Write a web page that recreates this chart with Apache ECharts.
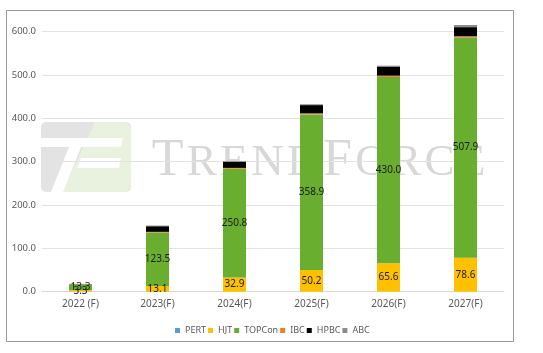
<!DOCTYPE html>
<html>
<head>
<meta charset="utf-8">
<script src="https://cdn.jsdelivr.net/npm/echarts@6/dist/echarts.min.js"></script>
<style>
  html, body { margin: 0; padding: 0; background: #fff; }
  #chart { width: 543px; height: 353px; }
</style>
</head>
<body>
<div id="chart"></div>
<script>
// capacity by cell technology, GW
const years = ["2022 (F)", "2023(F)", "2024(F)", "2025(F)", "2026(F)", "2027(F)"];
const pert = [0, 0, 0, 0, 0, 0];
const hjt = [3.3, 13.1, 32.9, 50.2, 65.6, 78.6];
const topcon = [13.3, 123.5, 250.8, 358.9, 430.0, 507.9];
const ibc = [0.5, 1.5, 2, 2.5, 3, 3];
const hpbc = [0.5, 13, 14, 19, 20, 21];
const abc = [0.4, 1.5, 2, 2, 3, 5];
const yTicks = [0, 100, 200, 300, 400, 500, 600];

const chart = echarts.init(document.getElementById("chart"));

const font = "Noto Sans";
const labelStyle = {
  show: true,
  position: "inside",
  color: "#1a1a1a",
  fontFamily: font,
  fontSize: 10,
  formatter: (p) => p.value.toFixed(1),
};

const makeSeries = (name, data, color, label) => ({
  name,
  type: "bar",
  stack: "total",
  data,
  barWidth: 23,
  clip: false,
  itemStyle: { color },
  label: label ? labelStyle : { show: false },
  emphasis: { disabled: true },
});

// watermark letters, big caps and small caps
const wmBig = { fontFamily: "Liberation Serif", fontSize: 52, fill: "#d8d8d8",
  verticalAlign: "bottom", lineHeight: 56, padding: [0, 1.7, 0, 1.7] };
const wmSmall = { fontFamily: "Liberation Serif", fontSize: 45, fill: "#d8d8d8",
  verticalAlign: "bottom", lineHeight: 56, padding: [0, 1.7, 1.5, 1.7] };

const option = {
  animation: false,
  backgroundColor: "#fff",
  grid: { left: 42, right: 39, top: 31.7, bottom: 61.3 },
  graphic: [
    // outer frame
    { type: "rect", shape: { x: 6.5, y: 10.5, width: 507, height: 331 },
      style: { fill: null, stroke: "#9a9a9a", lineWidth: 1 }, z: -10 },
    // watermark logo
    { type: "rect", shape: { x: 41, y: 122, width: 90, height: 70, r: 5 },
      style: { fill: "#e3e3e3" }, z: -5 },
    { type: "polygon", shape: { points: [[95, 122], [126, 122], [131, 127], [131, 187], [126, 192], [62, 192]] },
      style: { fill: "#e9f2de" }, z: -5 },
    { type: "polygon", shape: { points: [[41, 138], [123, 138], [121, 147], [41, 147]] },
      style: { fill: "#fff" }, z: -4 },
    { type: "polygon", shape: { points: [[81, 158], [121, 158], [119, 168], [77, 168]] },
      style: { fill: "#fff" }, z: -4 },
    { type: "polygon", shape: { points: [[69, 147], [81, 147], [63, 192], [51, 192]] },
      style: { fill: "#fff" }, z: -4 },
    // watermark text
    {
      type: "text", left: 150, top: 135, z: -5,
      style: {
        text: "{a|T}{b|R}{b|E}{b|N}{b|D}{a|F}{b|O}{b|R}{b|C}{b|E}",
        fill: "#d8d8d8",
        rich: { a: wmBig, b: wmSmall },
      },
    },
  ],
  legend: {
    left: 170,
    top: 321,
    itemWidth: 5,
    itemHeight: 5,
    itemGap: 2,
    icon: "rect",
    textStyle: { color: "#595959", fontFamily: font, fontSize: 9 },
    data: ["PERT", "HJT", "TOPCon", "IBC", "HPBC", "ABC"],
  },
  xAxis: {
    type: "category",
    data: years,
    axisLine: { lineStyle: { color: "#d9d9d9" } },
    axisTick: { show: false },
    axisLabel: { color: "#595959", fontFamily: font, fontSize: 10, margin: 7, interval: 0 },
  },
  yAxis: {
    type: "value",
    min: yTicks[0],
    max: yTicks[yTicks.length - 1],
    interval: 100,
    axisLine: { show: false },
    axisTick: { show: false },
    splitLine: { lineStyle: { color: "#e3e3e3" } },
    axisLabel: {
      color: "#595959", fontFamily: font, fontSize: 9.5, margin: 6,
      formatter: (v) => v.toFixed(1),
    },
  },
  series: [
    makeSeries("PERT", pert, "#5b9bd5", false),
    makeSeries("HJT", hjt, "#ffc000", true),
    makeSeries("TOPCon", topcon, "#69ae2e", true),
    makeSeries("IBC", ibc, "#ed7d31", false),
    makeSeries("HPBC", hpbc, "#000000", false),
    makeSeries("ABC", abc, "#8c8c8c", false),
  ],
};

chart.setOption(option);
</script>
</body>
</html>
